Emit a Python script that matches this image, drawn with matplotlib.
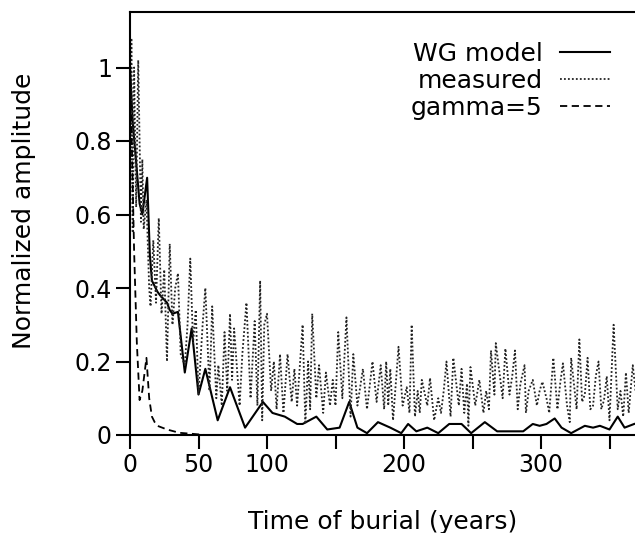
import numpy as np
import matplotlib
matplotlib.use("Agg")
import matplotlib.pyplot as plt

plt.rcParams['font.family'] = ['DejaVu Sans']

# WG model (solid)
wg_t = [0, 2, 5, 7, 9, 12.5, 14.5, 16, 20, 22, 27, 29, 31, 35, 40, 45, 50, 55, 64, 73, 84,
        97, 104, 113, 122, 126, 136, 144, 153, 160, 166, 173, 181, 190, 198, 203, 209,
        217, 225, 233, 242, 249, 259, 268, 287, 294, 299, 304, 310, 315, 322, 332, 338,
        343, 350, 356, 361, 368]
wg_v = [1.0, 0.85, 0.72, 0.63, 0.60, 0.70, 0.49, 0.42, 0.39, 0.38, 0.36, 0.34, 0.33, 0.335,
        0.17, 0.29, 0.11, 0.18, 0.04, 0.13, 0.02, 0.09, 0.06, 0.05, 0.03, 0.03, 0.05,
        0.015, 0.02, 0.09, 0.02, 0.005, 0.035, 0.02, 0.005, 0.03, 0.01, 0.02, 0.005,
        0.03, 0.03, 0.005, 0.035, 0.01, 0.01, 0.03, 0.025, 0.03, 0.045, 0.02, 0.005,
        0.025, 0.02, 0.025, 0.015, 0.05, 0.02, 0.03]

# measured (dotted)
meas_t = [0, 1, 2, 3, 4.5, 6, 8, 9, 10, 12, 14, 15, 17, 19, 21, 23, 25, 27, 29, 31, 33,
          35, 37, 40, 42, 44, 46, 48, 50, 53, 55, 58, 60, 63, 64.5, 67, 69, 71, 73, 74.5,
          76, 80, 82, 85, 88, 91, 93, 95, 96.5, 98, 100, 103, 105, 107, 109.5, 112, 115,
          118, 120, 122, 126, 128, 130, 131.5, 133, 136, 138, 141, 143, 146, 148, 150,
          152, 155, 158, 161, 163, 166, 170, 173, 177, 180, 183, 185.5, 187, 188.5, 190,
          192, 196, 199, 202, 204, 205.6, 208, 210, 211.5, 213, 217, 219, 222, 225, 227,
          229, 231, 234, 236, 240, 242, 244, 246, 247, 248.5, 252, 255, 258, 260, 262,
          263.5, 266, 267, 270, 272, 274, 277, 279, 281, 283, 285, 288, 289, 291, 294,
          297, 299, 301, 304, 306, 309, 312, 314, 316, 319, 321, 322, 326, 328, 330, 332,
          334, 336, 338, 340, 342, 344, 346, 348, 350, 353, 356, 358, 360, 362, 364, 367,
          369]
meas_v = [0.50, 1.08, 0.55, 1.00, 0.62, 1.02, 0.58, 0.75, 0.56, 0.64, 0.40, 0.35, 0.53,
          0.36, 0.59, 0.33, 0.45, 0.20, 0.52, 0.30, 0.40, 0.44, 0.22, 0.19, 0.30, 0.48,
          0.25, 0.34, 0.11, 0.30, 0.40, 0.12, 0.35, 0.10, 0.19, 0.08, 0.28, 0.12, 0.33,
          0.15, 0.29, 0.08, 0.22, 0.36, 0.10, 0.31, 0.08, 0.42, 0.04, 0.30, 0.33, 0.12,
          0.20, 0.07, 0.22, 0.06, 0.22, 0.09, 0.18, 0.08, 0.30, 0.03, 0.20, 0.07, 0.33,
          0.10, 0.19, 0.06, 0.17, 0.08, 0.15, 0.08, 0.28, 0.10, 0.32, 0.05, 0.22, 0.08,
          0.18, 0.07, 0.20, 0.09, 0.19, 0.07, 0.20, 0.08, 0.18, 0.04, 0.24, 0.08, 0.13,
          0.06, 0.30, 0.05, 0.12, 0.06, 0.15, 0.08, 0.155, 0.04, 0.10, 0.06, 0.12, 0.20,
          0.05, 0.21, 0.08, 0.18, 0.06, 0.14, 0.025, 0.185, 0.08, 0.15, 0.06, 0.12, 0.07,
          0.23, 0.11, 0.25, 0.16, 0.10, 0.235, 0.11, 0.16, 0.23, 0.07, 0.14, 0.19, 0.06,
          0.12, 0.15, 0.08, 0.12, 0.145, 0.10, 0.06, 0.21, 0.07, 0.14, 0.195, 0.08, 0.035,
          0.21, 0.07, 0.26, 0.09, 0.11, 0.21, 0.07, 0.08, 0.16, 0.20, 0.07, 0.095, 0.16,
          0.04, 0.30, 0.07, 0.12, 0.05, 0.17, 0.06, 0.19, 0.12]

# gamma=5 (dashed)
gam_t = [0, 1, 3, 5, 7, 9, 12, 14, 16, 18, 20, 27, 36, 46, 55]
gam_v = [1.0, 0.85, 0.50, 0.25, 0.095, 0.12, 0.21, 0.10, 0.05, 0.035, 0.025, 0.015,
         0.006, 0.003, 0.0]

xticks = [0, 50, 100, 150, 200, 250, 300, 350]
xticklabels = ['0', '50', '100', '', '200', '', '300', '']
yticks = [0, 0.2, 0.4, 0.6, 0.8, 1]
yticklabels = ['0', '0.2', '0.4', '0.6', '0.8', '1']

fig = plt.figure(figsize=(6.35, 5.33), dpi=100)
ax = fig.add_axes([130/635, 98/533, 505/635, 423/533])

l1, = ax.plot(wg_t, wg_v, color='black', lw=1.5, linestyle='-')
l2, = ax.plot(meas_t, meas_v, color='#222222', lw=1.3, linestyle=(0, (1, 1.2)))
l3, = ax.plot(gam_t, gam_v, color='black', lw=1.3, linestyle=(0, (4, 2.5)))

ax.set_xlim(0, 505/1.37)
ax.set_ylim(0, 423/367.5)
ax.set_xticks(xticks)
ax.set_xticklabels(xticklabels)
ax.set_yticks(yticks)
ax.set_yticklabels(yticklabels)
ax.tick_params(direction='out', length=10, width=1.5, labelsize=17)
ax.tick_params(axis='x', pad=3)
ax.tick_params(axis='y', pad=3)
ax.spines['right'].set_visible(False)
for s in ['left', 'bottom', 'top']:
    ax.spines[s].set_linewidth(1.5)

ax.set_xlabel('Time of burial (years)', fontsize=18, labelpad=24)
ax.set_ylabel('Normalized amplitude', fontsize=18, labelpad=28)
ax.yaxis.label.set_y(0.53)

ax.legend([l1, l2, l3], ['WG model', 'measured', 'gamma=5'], frameon=False,
          markerfirst=False, fontsize=18, handlelength=2.0, handletextpad=0.7,
          labelspacing=0.12, loc='upper right',
          bbox_to_anchor=(610/635, 1 - 42/533), bbox_transform=fig.transFigure,
          borderpad=0, borderaxespad=0)

fig.savefig('out.png', dpi=100)
